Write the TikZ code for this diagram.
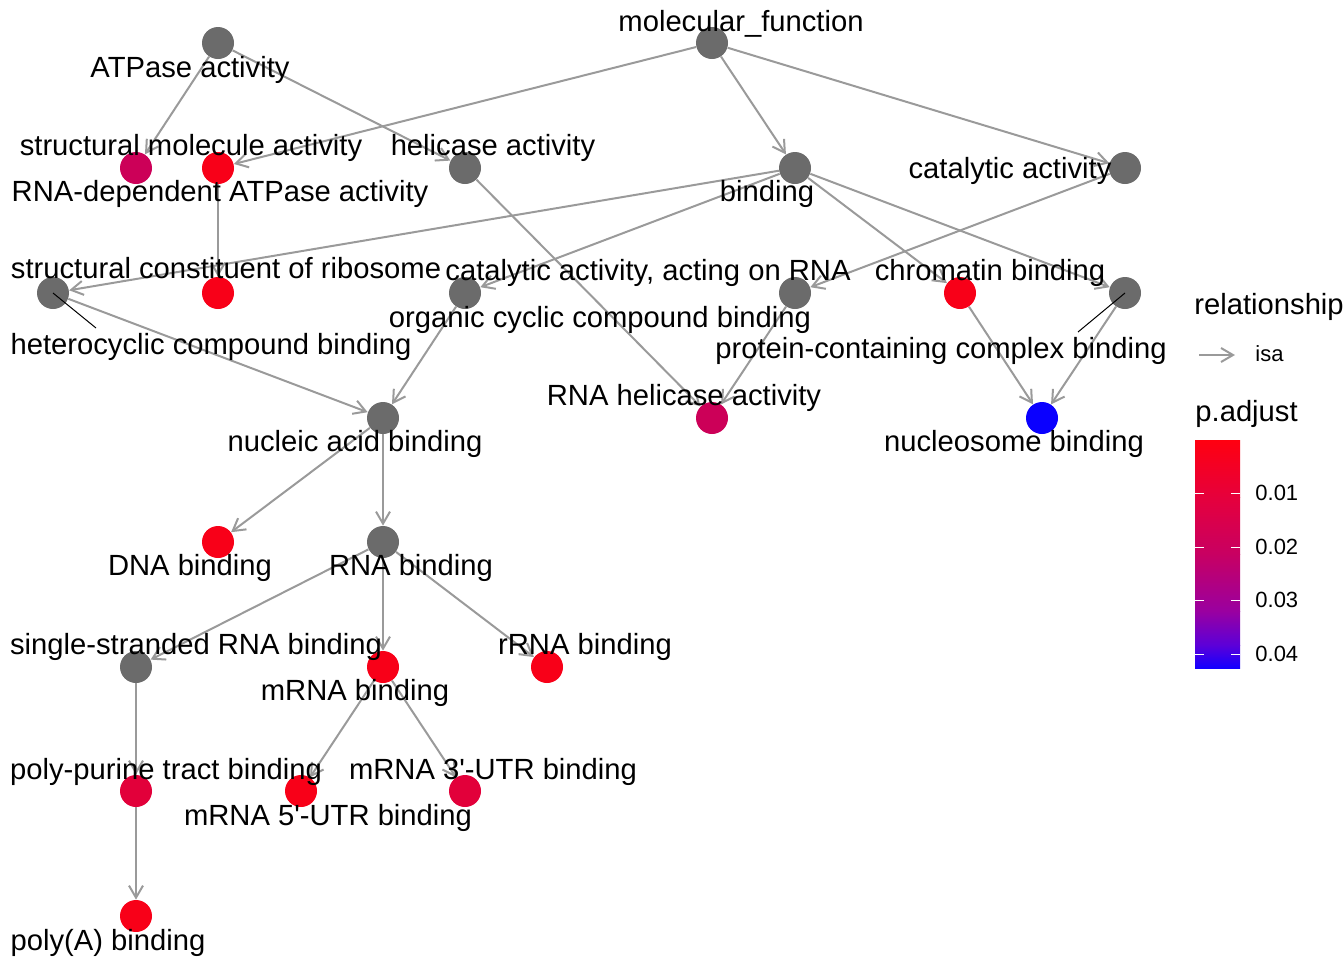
\documentclass[tikz,border=0pt]{standalone}
\usepackage{fontspec}
\setmainfont{Liberation Sans}
\usetikzlibrary{arrows.meta}
\definecolor{termgray}{HTML}{6B6B6B}
\definecolor{isagray}{HTML}{9A9A9A}
\definecolor{pred}{HTML}{F80018}
\definecolor{pcrim}{HTML}{E2003A}
\definecolor{pmag}{HTML}{CC0058}
\definecolor{pblue}{HTML}{0A00FF}
\definecolor{p0}{HTML}{FF0010}
\definecolor{p1}{HTML}{E6003C}
\definecolor{p2}{HTML}{C80062}
\definecolor{p3}{HTML}{9A00A0}
\definecolor{p4}{HTML}{5C00D8}
\definecolor{p5}{HTML}{1400FF}
\begin{document}
\begin{tikzpicture}[x=0.5pt, y=-0.5pt,
  term/.style={circle, inner sep=0pt, minimum size=16pt},
  isa/.style={draw=isagray, line width=1pt, -{Straight Barb[length=6pt,width=7pt]}},
  lab/.style={anchor=base, inner sep=0pt, font=\fontsize{14.6}{17}\selectfont},
  key/.style={anchor=base west, inner sep=0pt, font=\fontsize{11}{13}\selectfont},
  leader/.style={draw=black, line width=0.5pt}]
\useasboundingbox (0,0) rectangle (1344,960);
% GO terms
\foreach \n/\x/\y/\c in {mf/712/43/termgray, atp/218/43/termgray,
                         rdatp/136/168/pmag, sma/218/168/pred, hel/465/168/termgray,
                         bind/795/168/termgray, cat/1125/168/termgray,
                         hcb/53/293/termgray, scr/218/293/pred, ocb/465/293/termgray,
                         caor/795/293/termgray, chb/960/293/pred, pcb/1125/293/termgray,
                         nab/383/418/termgray, rhel/712/418/pmag, nsb/1042/418/pblue,
                         dna/218/542/pred, rna/383/542/termgray,
                         ssrna/136/667/termgray, mrna/383/667/pred, rrna/547/667/pred,
                         ppt/136/791/pcrim, utr5/301/791/pred, utr3/465/791/pcrim,
                         polya/136/916/pred}
  \node[term, fill=\c] (\n) at (\x,\y) {};
% is_a edges
\foreach \a/\b in {mf/sma, mf/bind, mf/cat, atp/rdatp, atp/hel, sma/scr, hel/rhel,
                   bind/hcb, bind/ocb, bind/chb, bind/pcb, cat/caor, caor/rhel,
                   ocb/nab, hcb/nab, chb/nsb, pcb/nsb, nab/dna, nab/rna,
                   rna/ssrna, rna/mrna, rna/rrna, mrna/utr5, mrna/utr3,
                   ssrna/ppt, ppt/polya}
  \draw[isa] (\a) -- (\b);
\coordinate (hcb-end) at (96,328);
\coordinate (pcb-end) at (1078,332);
\draw[leader] (hcb.center) -- (hcb-end);
\draw[leader] (pcb.center) -- (pcb-end);
% labels
\foreach \n/\x/\y/\t in {mf/741/31/molecular\_function, atp/190/77/ATPase activity,
                         sma/191/155/structural molecule activity, hel/493/155/helicase activity,
                         rdatp/220/201/RNA-dependent ATPase activity, bind/767/201/binding,
                         cat/1010/178/catalytic activity,
                         scr/226/278/structural constituent of ribosome,
                         caor/648/280/{catalytic activity, acting on RNA},
                         chb/990/280/chromatin binding,
                         ocb/600/327/organic cyclic compound binding,
                         hcb/211/354/heterocyclic compound binding,
                         pcb/941/358/protein-containing complex binding,
                         rhel/684/405/RNA helicase activity,
                         nab/355/451/nucleic acid binding, nsb/1014/451/nucleosome binding,
                         dna/190/575/DNA binding, rna/411/575/RNA binding,
                         ssrna/196/654/single-stranded RNA binding, rrna/585/654/rRNA binding,
                         mrna/355/700/mRNA binding, ppt/166/779/poly-purine tract binding,
                         utr3/493/779/mRNA 3\textquotesingle-UTR binding,
                         utr5/328/825/mRNA 5\textquotesingle-UTR binding,
                         polya/108/950/poly(A) binding}
  \node[lab] (\n-l) at (\x,\y) {\t};
% legend
\node[lab, anchor=base west] (rel-t) at (1194,314) {relationship};
\coordinate (isa-a) at (1199,355);
\coordinate (isa-b) at (1235,355);
\draw[isa] (isa-a) -- (isa-b);
\node[key] (isa-t) at (1255,361) {isa};
\node[lab, anchor=base west] (padj-t) at (1195,421) {p.adjust};
\foreach \ya/\yb/\ca/\cb in {440/497/p0/p1, 497/554/p1/p2, 554/611/p2/p3,
                             611/645/p3/p4, 645/668/p4/p5}
  \shade[top color=\ca, bottom color=\cb] (1195,\ya) rectangle (1240,\yb);
\foreach \y/\v [count=\i] in {493/0.01, 547/0.02, 600/0.03, 654/0.04} {
  \draw[white, line width=0.5pt] (1195,\y) -- (1204,\y) (1231,\y) -- (1240,\y);
  \node[key] (tick\i) at (1255,\y+7) {\v};
}
\end{tikzpicture}
\end{document}
